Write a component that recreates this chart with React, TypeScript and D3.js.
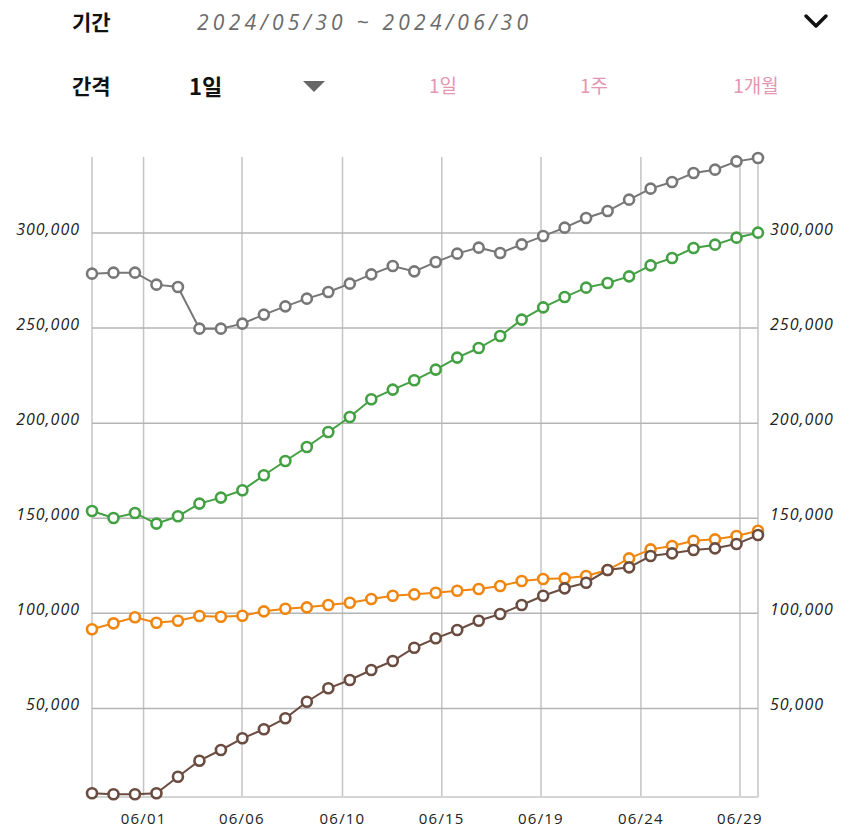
import React from "react";
import * as d3 from "d3";

const dates = [
  "05/30","05/31","06/01","06/02","06/03","06/04","06/05","06/06","06/07","06/08",
  "06/09","06/10","06/11","06/12","06/13","06/14","06/15","06/16","06/17","06/18",
  "06/19","06/20","06/21","06/22","06/23","06/24","06/25","06/26","06/27","06/28",
  "06/29","06/30",
];

const grayValues = [
  278650, 279180, 279180, 272870, 271600, 249730, 249730, 252360, 257100, 261460,
  265500, 268980, 273400, 278280, 282650, 279860, 284750, 289170, 292320, 289480,
  294060, 298420, 302840, 307890, 311570, 317560, 323350, 326820, 331550, 333340,
  337700, 339440,
];
const greenValues = [
  153830, 150150, 152780, 147200, 151040, 157720, 160870, 164710, 172600, 180120,
  187480, 195370, 203250, 212560, 217660, 222550, 228180, 234490, 239530, 245840,
  254470, 260930, 266350, 271290, 273710, 277230, 283020, 286860, 292110, 293900,
  297580, 300210,
];
const orangeValues = [
  91590, 94740, 97900, 95060, 96110, 98580, 98210, 98740, 101050, 102420,
  103150, 104360, 105570, 107520, 109250, 109990, 110830, 111880, 112780, 114350,
  116980, 118030, 118400, 119610, 122770, 128920, 133650, 135390, 138170, 138910,
  140640, 143430,
];
const brownValues = [
  5360, 4830, 4830, 5360, 14080, 22500, 28120, 34280, 39010, 44790,
  53520, 60570, 64930, 70190, 74920, 81910, 86860, 91220, 96110, 99630,
  104360, 109250, 113150, 116090, 122770, 124190, 130130, 131550, 133280, 134180,
  136440, 141170,
];

const seriesColors = ["#777777", "#43a043", "#f0860f", "#6b4c40"];
const seriesList = [grayValues, greenValues, orangeValues, brownValues];

const yTicks = [50000, 100000, 150000, 200000, 250000, 300000];
const xTickPos = [2.4, 6.98, 11.66, 16.28, 20.9, 25.55, 30.16];
const xTickLabels = ["06/01", "06/06", "06/10", "06/15", "06/19", "06/24", "06/29"];

const yMin = 3400;
const yMax = 340000;

const periodLabel = "기간";
const periodText = "2024/05/30 ~ 2024/06/30";
const intervalLabel = "간격";
const intervalValue = "1일";
const intervalOptions = ["1일", "1주", "1개월"];
const intervalOptionX = [443, 594, 756];

export default function App() {
  const left = 92, right = 758, top = 157, bottom = 797;
  const x = d3.scaleLinear().domain([0, dates.length - 1]).range([left, right]);
  const y = d3.scaleLinear().domain([yMin, yMax]).range([bottom, top]);
  const line = d3.line<number>().x((_, i) => x(i)).y((d) => y(d));
  const fmt = d3.format(",");
  const kr = "'Noto Sans CJK KR', 'Noto Sans', sans-serif";
  const num = "'Open Sans', 'Noto Sans', sans-serif";

  return (
    <svg width={850} height={835} style={{ position: "absolute", left: 0, top: 0, background: "#fff" }}>
      {/* header */}
      <text x={72} y={30} fontFamily={kr} fontSize={21} fontWeight={700} fill="#111">{periodLabel}</text>
      <text x={197} y={30} fontFamily={num} fontStyle="italic" fontSize={21} fill="#6a6a6a" textLength={331} lengthAdjust="spacing">{periodText}</text>
      <polyline points="806,16 816,26 826,16" fill="none" stroke="#111" strokeWidth={3.5} strokeLinecap="round" strokeLinejoin="round" />
      <text x={72} y={94} fontFamily={kr} fontSize={21} fontWeight={700} fill="#111">{intervalLabel}</text>
      <text x={189} y={95} fontFamily={kr} fontSize={22} fontWeight={700} fill="#111">{intervalValue}</text>
      <polygon points="303,81 325,81 314,92" fill="#666" />
      {intervalOptions.map((t, i) => (
        <text key={t} x={intervalOptionX[i]} y={93} textAnchor="middle" fontFamily={kr} fontSize={19} fill="#e596b2">{t}</text>
      ))}

      {/* vertical grid */}
      {[0, dates.length - 1].map((v) => (
        <line key={"ve" + v} x1={x(v)} x2={x(v)} y1={top} y2={bottom} stroke="#c4c4c4" strokeWidth={1.5} />
      ))}
      {xTickPos.map((v) => (
        <line key={"v" + v} x1={x(v)} x2={x(v)} y1={top} y2={bottom} stroke="#c4c4c4" strokeWidth={1.5} />
      ))}
      {/* horizontal grid */}
      {yTicks.map((v) => (
        <line key={"h" + v} x1={left} x2={right} y1={y(v)} y2={y(v)} stroke="#b4b4b4" strokeWidth={1.5} />
      ))}
      <line x1={left} x2={right} y1={bottom} y2={bottom} stroke="#d4d4d4" strokeWidth={2} />

      {/* y labels */}
      {yTicks.map((v) => (
        <g key={"yl" + v}>
          <text x={80} y={y(v) + 2} textAnchor="end" fontFamily={num} fontStyle="italic" fontSize={16} letterSpacing={1} fill="#222">{fmt(v)}</text>
          <text x={770} y={y(v) + 2} textAnchor="start" fontFamily={num} fontStyle="italic" fontSize={16} letterSpacing={1} fill="#222">{fmt(v)}</text>
        </g>
      ))}
      {/* x labels */}
      {xTickPos.map((v, i) => (
        <text key={"xl" + v} x={x(v)} y={824} textAnchor="middle" fontFamily={num} fontSize={15} letterSpacing={1.2} fill="#222">{xTickLabels[i]}</text>
      ))}

      {/* series */}
      {seriesList.map((vals, si) => (
        <g key={"s" + si}>
          <path d={line(vals) || ""} fill="none" stroke={seriesColors[si]} strokeWidth={2} />
          {vals.map((v, i) => (
            <circle key={i} cx={x(i)} cy={y(v)} r={5} fill="#fff" stroke={seriesColors[si]} strokeWidth={2.6} />
          ))}
        </g>
      ))}
    </svg>
  );
}
